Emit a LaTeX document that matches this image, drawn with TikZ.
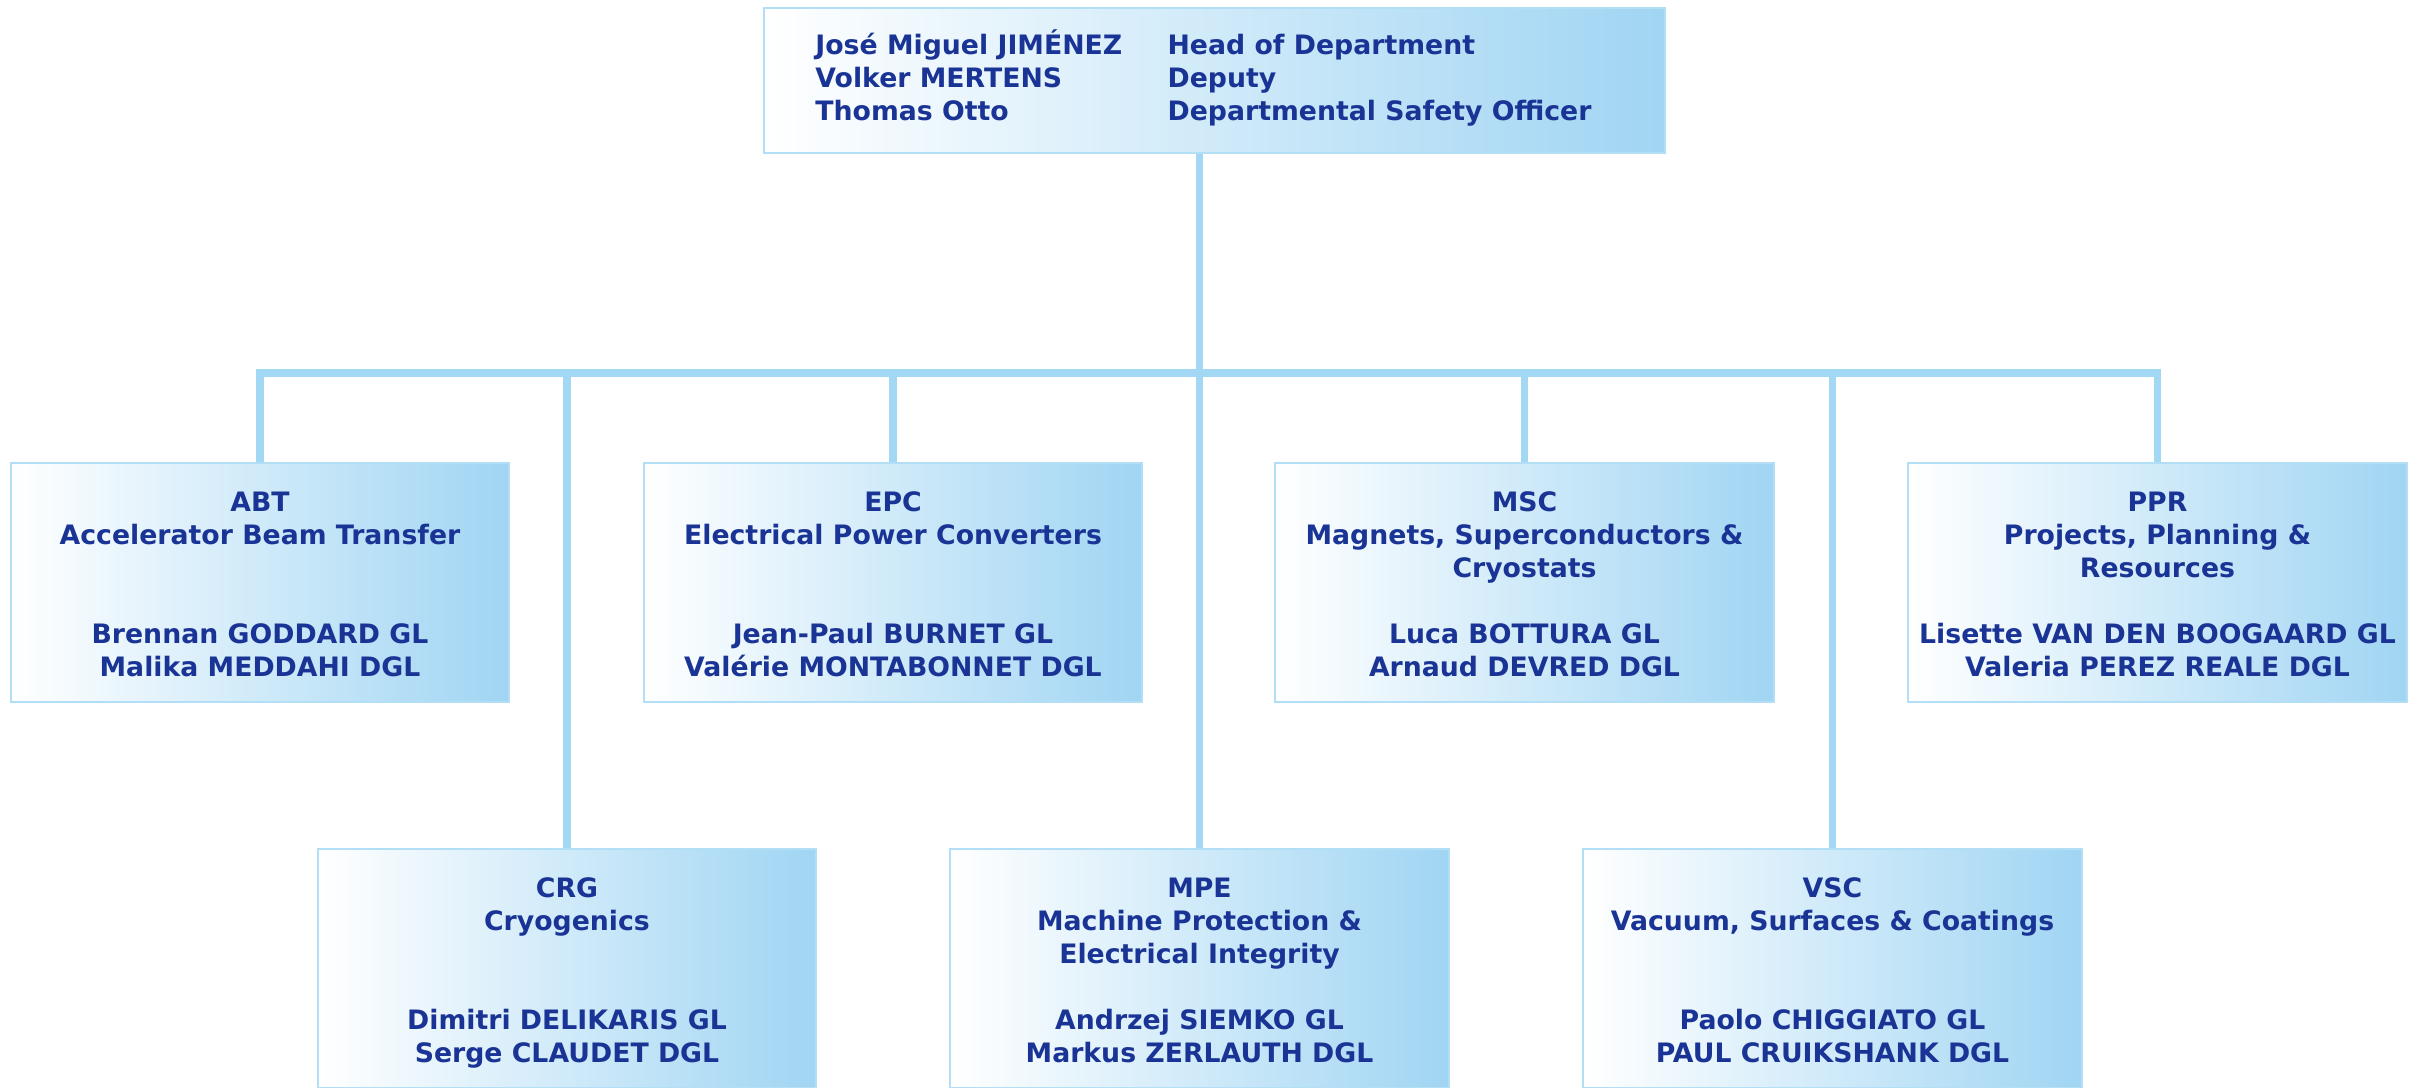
\documentclass[tikz,border=0pt]{standalone}
\usepackage{fontspec}
\setmainfont{DejaVu Sans}
\usetikzlibrary{positioning}

\definecolor{textblue}{RGB}{26,52,150}
\definecolor{lineblue}{RGB}{163,216,244}
\definecolor{edgeblue}{RGB}{178,223,246}
\definecolor{shadeblue}{RGB}{160,213,243}

\tikzset{
  shadedbox/.style={draw=edgeblue, line width=0.6pt, left color=white, right color=shadeblue,
    inner sep=0pt, align=center, text=textblue,
    font=\bfseries\fontsize{7.6}{9.4}\selectfont},
  unitbox/.style={shadedbox, minimum width=4.98cm, minimum height=2.39cm,
    execute at begin node={\rule[-2.8pt]{0pt}{59.1pt}}},
  headbox/.style={shadedbox, minimum width=9.01cm, minimum height=1.45cm},
  link/.style={draw=lineblue, line width=2.1pt}
}

\begin{document}
\begin{tikzpicture}[x=0.01cm, y=-0.01cm]

    \useasboundingbox (0,0) rectangle (2420,1087);

    % Department head
    \node[headbox] (head) at (1214.5,80.5) {%
      \begin{tabular}{@{}p{3.52cm}@{}l@{}}
        José Miguel JIMÉNEZ & Head of Department\\
        Volker MERTENS & Deputy\\
        Thomas Otto & Departmental Safety Officer
      \end{tabular}\hspace*{0.22cm}};

    % Groups, first row
    \node[unitbox] (abt) at (260,582.5)
      {ABT\\Accelerator Beam Transfer\\~\\~\\Brennan GODDARD GL\\Malika MEDDAHI DGL};
    \node[unitbox] (epc) at (893,582.5)
      {EPC\\Electrical Power Converters\\~\\~\\Jean-Paul BURNET GL\\Valérie MONTABONNET DGL};
    \node[unitbox] (msc) at (1524.5,582.5)
      {MSC\\Magnets, Superconductors \&\\Cryostats\\~\\Luca BOTTURA GL\\Arnaud DEVRED DGL};
    \node[unitbox] (ppr) at (2157.5,582.5)
      {PPR\\Projects, Planning \&\\Resources\\~\\Lisette VAN DEN BOOGAARD GL\\Valeria PEREZ REALE DGL};

    % Groups, second row
    \node[unitbox] (crg) at (567,968.5)
      {CRG\\Cryogenics\\~\\~\\Dimitri DELIKARIS GL\\Serge CLAUDET DGL};
    \node[unitbox] (mpe) at (1199.5,968.5)
      {MPE\\Machine Protection \&\\Electrical Integrity\\~\\Andrzej SIEMKO GL\\Markus ZERLAUTH DGL};
    \node[unitbox] (vsc) at (1832.5,968.5)
      {VSC\\Vacuum, Surfaces \& Coatings\\~\\~\\Paolo CHIGGIATO GL\\PAUL CRUIKSHANK DGL};

    % Connectors
    \coordinate (bus) at (1199.5,373);
    \draw[link] (head.south -| bus) -- (bus);
    \draw[link, line cap=rect] (abt.north |- bus) -- (ppr.north |- bus);
    \foreach \u in {abt,crg,epc,mpe,msc,vsc,ppr} {
      \draw[link] (\u.north) -- (\u.north |- bus);
    }

\end{tikzpicture}
\end{document}
